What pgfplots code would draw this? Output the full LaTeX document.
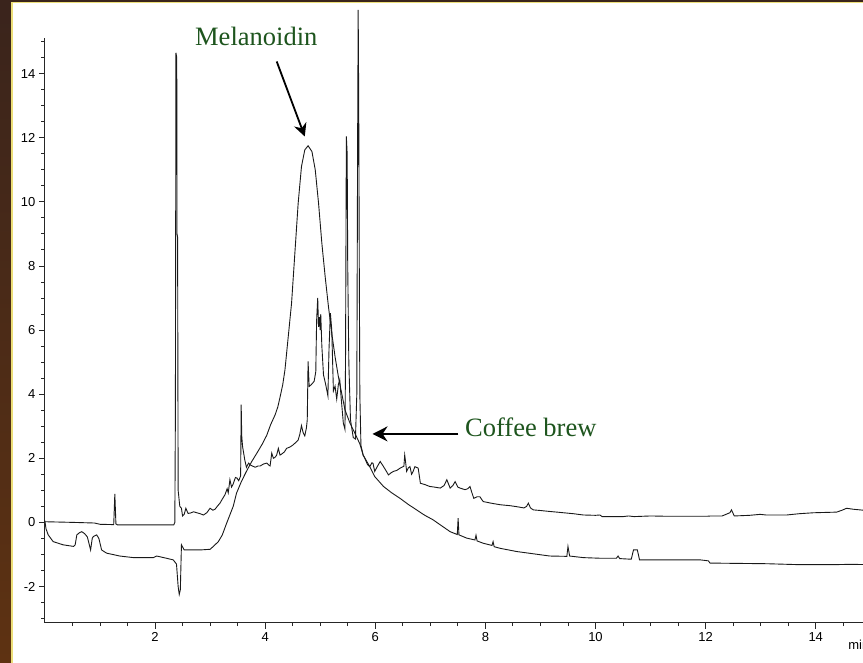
\documentclass[border=0pt]{standalone}
\usepackage{pgfplots}
\pgfplotsset{compat=1.18}
\usetikzlibrary{arrows.meta}
\usepackage{fontspec}
\setmainfont{Liberation Serif}
\newfontfamily\ticksans{Liberation Sans}
\definecolor{annot}{RGB}{30,85,30}
\definecolor{frameA}{RGB}{58,36,28}
\definecolor{frameB}{RGB}{94,50,18}
\definecolor{rim}{RGB}{236,222,120}
\definecolor{trace}{RGB}{25,25,25}
\begin{document}
\begin{tikzpicture}[x=1pt,y=1pt]
\useasboundingbox (0,0) rectangle (863,663);
% slide background and framed white panel
\shade[top color=frameA,bottom color=frameB] (0,0) rectangle (863,663);
\fill[rim] (11,-10) rectangle (880,661);
\fill[white] (12.7,-10) rectangle (880,659.7);
\begin{axis}[
  at={(44.9pt,40.3pt)}, anchor=south west,
  scale only axis, width=836.9pt, height=584.3pt,
  xmin=0, xmax=15.2, ymin=-3.13, ymax=15.1,
  axis lines=left,
  axis line style={-, line width=1.1pt, black!85},
  xtick={2,4,...,14}, ytick={-2,0,...,14},
  minor xtick={0.5,1,...,15}, minor ytick={-3,-2.5,...,15},
  tick align=outside,
  major tick length=6pt, minor tick length=3.5pt,
  every tick/.append style={line width=0.9pt, black!85},
  tick label style={font=\fontsize{13}{13}\selectfont\ticksans},
  /pgf/number format/assume math mode=true,
  clip=false,
]
% coffee brew trace
\addplot[trace, line width=0.9pt] coordinates {
(0.00,0.02) (0.5,0.0) (0.9,-0.02) (1.0,-0.06) (1.25,-0.07) (1.27,0.89) (1.29,-0.05)
(1.32,-0.08) (1.6,-0.08) (2.0,-0.08) (2.34,-0.08) (2.36,0.0) (2.37,3.4) (2.38,14.65)
(2.395,14.5) (2.40,9.0) (2.41,8.9) (2.42,1.0) (2.45,0.5) (2.48,0.44) (2.50,0.2)
(2.53,0.25) (2.56,0.44) (2.60,0.28) (2.64,0.29) (2.70,0.33) (2.76,0.3) (2.82,0.27)
(2.88,0.23) (2.94,0.3) (3.0,0.44) (3.05,0.38) (3.09,0.41) (3.14,0.52) (3.18,0.6)
(3.22,0.72) (3.27,0.86) (3.31,1.05) (3.33,0.92) (3.36,1.33) (3.39,1.1) (3.42,1.2)
(3.46,1.4) (3.49,1.38) (3.52,1.3) (3.555,1.45) (3.565,3.67) (3.575,2.7) (3.59,2.37)
(3.63,1.95) (3.66,1.72) (3.70,1.85) (3.73,1.79) (3.78,1.75) (3.82,1.72) (3.87,1.76)
(3.91,1.76) (3.97,1.82) (4.03,1.85) (4.07,1.78) (4.09,1.76) (4.12,2.16) (4.15,2.0)
(4.18,2.03) (4.21,2.1) (4.24,2.31) (4.27,2.1) (4.30,2.13) (4.35,2.2) (4.39,2.31)
(4.45,2.35) (4.51,2.42) (4.56,2.5) (4.60,2.57) (4.63,2.75) (4.66,3.02) (4.69,2.8)
(4.72,2.7) (4.75,2.95) (4.765,3.2) (4.78,5.02) (4.80,4.24) (4.84,4.3) (4.89,4.4)
(4.92,4.7) (4.935,6.3) (4.955,7.0) (4.97,6.1) (4.985,6.4) (5.0,6.0) (5.01,6.5)
(5.03,5.5) (5.06,4.6) (5.10,4.3) (5.14,3.95) (5.16,5.4) (5.185,6.53) (5.21,6.0)
(5.24,4.1) (5.27,4.25) (5.30,3.85) (5.33,4.3) (5.355,4.45) (5.38,3.9) (5.42,3.1)
(5.45,2.9) (5.46,5.0) (5.475,12.04) (5.49,11.5) (5.50,8.0) (5.52,5.0) (5.55,3.2)
(5.60,2.65) (5.64,2.6) (5.665,4.0) (5.68,12.0) (5.69,15.99) (5.70,13.0) (5.71,8.0)
(5.72,4.0) (5.74,2.4) (5.78,2.1) (5.81,2.0) (5.86,1.8) (5.90,1.74) (5.94,1.86)
(5.96,1.84) (5.99,1.59) (6.04,1.75) (6.09,1.9) (6.15,1.74) (6.20,1.6) (6.24,1.48)
(6.29,1.55) (6.33,1.59) (6.39,1.62) (6.45,1.69) (6.52,1.75) (6.535,2.1) (6.55,1.9)
(6.57,1.59) (6.60,1.7) (6.63,1.74) (6.66,1.5) (6.69,1.6) (6.72,1.74) (6.78,1.69)
(6.82,1.22) (6.90,1.18) (6.99,1.12) (7.08,1.1) (7.18,1.07) (7.25,1.15) (7.30,1.33)
(7.36,1.07) (7.41,1.15) (7.45,1.27) (7.50,1.1) (7.54,1.07) (7.63,1.02) (7.68,1.05)
(7.72,1.12) (7.76,0.9) (7.79,0.75) (7.85,0.8) (7.90,0.8) (7.96,0.65) (8.10,0.6)
(8.27,0.55) (8.45,0.52) (8.57,0.49) (8.70,0.45) (8.75,0.5) (8.78,0.6) (8.82,0.45)
(8.87,0.39) (9.00,0.37) (9.17,0.34) (9.30,0.32) (9.48,0.29) (9.60,0.27) (9.78,0.23)
(10.00,0.22) (10.08,0.23) (10.12,0.18) (10.5,0.18) (10.6,0.2) (10.7,0.18) (11.0,0.2)
(11.3,0.19) (11.7,0.19) (12.02,0.19) (12.1,0.2) (12.3,0.2) (12.44,0.3) (12.47,0.39)
(12.52,0.2) (12.8,0.22) (12.99,0.25) (13.1,0.23) (13.47,0.23) (13.7,0.27) (13.96,0.3)
(14.38,0.32) (14.48,0.38) (14.56,0.44) (14.68,0.41) (14.86,0.38) (15.2,0.38)
};
% melanoidin trace
\addplot[trace, line width=0.9pt] coordinates {
(0.0,0.05) (0.02,-0.2) (0.06,-0.39) (0.15,-0.6) (0.33,-0.7) (0.52,-0.75) (0.55,-0.7)
(0.58,-0.39) (0.63,-0.32) (0.67,-0.29) (0.72,-0.35) (0.77,-0.45) (0.83,-0.86)
(0.86,-0.5) (0.88,-0.44) (0.94,-0.39) (0.98,-0.5) (1.03,-0.86) (1.12,-0.96)
(1.36,-1.05) (1.61,-1.1) (1.97,-1.1) (2.03,-1.05) (2.21,-1.12) (2.33,-1.17)
(2.39,-1.3) (2.42,-2.0) (2.44,-2.25) (2.46,-2.1) (2.48,-0.7) (2.53,-0.86) (2.82,-0.86)
(3.0,-0.84) (3.06,-0.75) (3.15,-0.6) (3.22,-0.4) (3.30,-0.03) (3.42,0.5) (3.48,0.91)
(3.57,1.28) (3.66,1.59) (3.75,1.88) (3.85,2.16) (3.95,2.45) (4.03,2.72) (4.10,3.05)
(4.18,3.35) (4.23,3.6) (4.27,3.9) (4.32,4.3) (4.36,4.76) (4.42,5.8) (4.48,6.84)
(4.54,8.4) (4.60,9.96) (4.66,11.1) (4.72,11.62) (4.78,11.75) (4.85,11.57) (4.91,11.0)
(4.97,9.96) (5.03,8.71) (5.09,7.67) (5.15,6.73) (5.21,5.9) (5.27,5.17) (5.33,4.55)
(5.39,4.03) (5.45,3.51) (5.54,3.1) (5.63,2.78) (5.72,2.45) (5.78,2.1) (5.90,1.74)
(5.99,1.43) (6.15,1.12) (6.30,0.92) (6.45,0.75) (6.60,0.56) (6.75,0.39) (6.90,0.22)
(7.05,0.08) (7.20,-0.1) (7.36,-0.29) (7.49,-0.38) (7.505,0.13) (7.52,-0.39)
(7.66,-0.49) (7.81,-0.55) (7.83,-0.4) (7.85,-0.58) (7.96,-0.65) (8.12,-0.72)
(8.14,-0.6) (8.16,-0.76) (8.27,-0.81) (8.57,-0.91) (8.87,-0.98) (9.17,-1.05)
(9.48,-1.06) (9.50,-0.75) (9.53,-1.05) (9.78,-1.1) (10.1,-1.12) (10.38,-1.12)
(10.41,-1.05) (10.44,-1.13) (10.65,-1.15) (10.69,-0.86) (10.76,-0.86) (10.80,-1.17)
(11.29,-1.17) (11.9,-1.17) (12.05,-1.2) (12.08,-1.27) (13.11,-1.29) (13.71,-1.32)
(14.31,-1.32) (14.6,-1.31) (15.2,-1.32)
};
% annotations
\node[anchor=base west, inner sep=0pt, text=annot, font=\fontsize{26.5}{26.5}\selectfont]
  at (axis cs:2.726,14.88) {Melanoidin};
\draw[line width=1.8pt, -{Stealth[length=13pt,width=13pt]}]
  (axis cs:4.21,14.38) -- (axis cs:4.72,12.04);
\node[anchor=base west, inner sep=0pt, text=annot, font=\fontsize{26.5}{26.5}\selectfont]
  at (axis cs:7.63,2.68) {Coffee brew};
\draw[line width=1.8pt, -{Stealth[length=15pt,width=15pt]}]
  (axis cs:7.51,2.76) -- (axis cs:5.95,2.76);
\node[anchor=base west, inner sep=0pt, font=\fontsize{13}{13}\selectfont\ticksans]
  at (axis cs:14.59,-3.96) {min};
\end{axis}
\end{tikzpicture}
\end{document}
